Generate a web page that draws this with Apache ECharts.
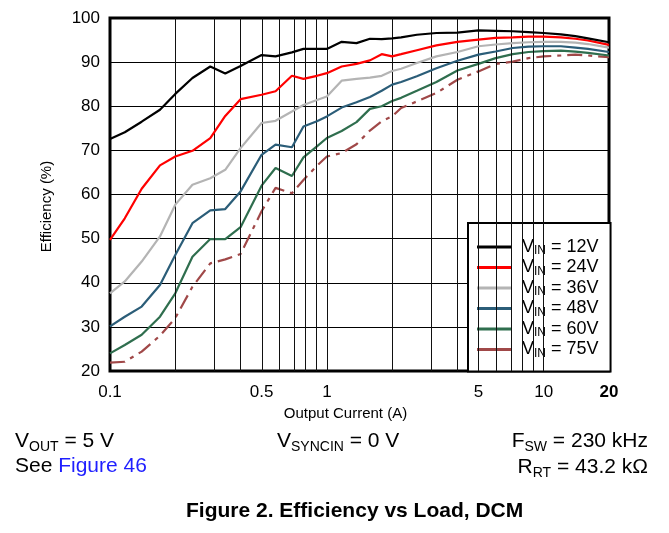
<!DOCTYPE html>
<html>
<head>
<meta charset="utf-8">
<script src="https://cdn.jsdelivr.net/npm/echarts@6/dist/echarts.min.js"></script>
<style>
html,body{margin:0;padding:0;background:#fff;}
#chart{width:669px;height:533px;}
</style>
</head>
<body>
<div id="chart"></div>
<script>
// Output current (A), shared by all series
const currents = [0.1, 0.117, 0.14, 0.17, 0.2, 0.24, 0.29, 0.34, 0.4, 0.5, 0.58, 0.69, 0.78, 0.9, 1.0, 1.17, 1.37, 1.58, 1.79, 2.0, 2.2, 2.6, 3.2, 4.0, 5.0, 6.0, 7.2, 8.5, 10, 12, 14, 16, 20];
// Efficiency (%) per input voltage
const eff12 = [72.6, 74.1, 76.5, 79.2, 82.8, 86.4, 89.0, 87.4, 89.1, 91.6, 91.3, 92.2, 93.0, 93.0, 93.0, 94.6, 94.3, 95.3, 95.2, 95.4, 95.6, 96.2, 96.6, 96.7, 97.2, 97.1, 97.0, 96.8, 96.6, 96.3, 95.9, 95.4, 94.5];
const eff24 = [49.7, 54.6, 61.3, 66.6, 68.6, 69.9, 72.8, 77.8, 81.6, 82.6, 83.4, 86.9, 86.2, 86.9, 87.5, 89.0, 89.6, 90.4, 91.8, 91.3, 91.8, 92.7, 93.8, 94.6, 95.1, 95.5, 95.6, 95.8, 95.8, 95.6, 95.3, 94.9, 93.9];
const eff36 = [37.6, 40.3, 44.8, 50.5, 57.7, 62.2, 63.7, 65.6, 70.5, 76.2, 76.7, 78.8, 80.3, 81.4, 82.2, 85.8, 86.2, 86.5, 86.9, 88.0, 88.5, 89.8, 91.3, 92.3, 93.6, 94.0, 94.3, 94.5, 94.6, 94.6, 94.4, 94.1, 93.3];
const eff48 = [30.1, 32.3, 34.6, 39.5, 46.3, 53.5, 56.4, 56.7, 60.7, 69.0, 71.3, 70.7, 75.4, 76.6, 77.7, 79.7, 80.9, 82.1, 83.5, 84.9, 85.5, 86.8, 88.6, 90.3, 91.7, 92.4, 93.2, 93.5, 93.6, 93.6, 93.3, 93.0, 92.3];
const eff60 = [24.0, 25.9, 28.2, 32.3, 37.6, 45.9, 49.9, 49.9, 52.6, 62.0, 66.0, 64.2, 68.4, 70.9, 72.8, 74.4, 76.4, 79.4, 80.0, 81.2, 81.9, 83.5, 85.5, 88.1, 89.6, 90.9, 91.8, 92.3, 92.5, 92.6, 92.4, 92.1, 91.5];
const eff75 = [21.9, 22.1, 24.4, 28.0, 32.0, 39.1, 44.4, 45.3, 46.5, 56.2, 61.5, 60.3, 63.3, 66.5, 68.6, 69.4, 71.4, 74.5, 76.6, 77.7, 79.6, 81.1, 83.0, 86.0, 87.9, 89.6, 90.1, 90.9, 91.3, 91.5, 91.7, 91.5, 91.1];
const seriesNames = ['12V', '24V', '36V', '48V', '60V', '75V'];
const seriesColors = ['#000000', '#ff0000', '#b4b4b4', '#2b5d78', '#2f6e4e', '#a04848'];
// Axis ticks
const xLabelValues = [0.1, 0.5, 1, 5, 10, 20];
const xGridValues = [0.2, 0.3, 0.4, 0.5, 0.6, 0.7, 0.8, 0.9, 1, 2, 3, 4, 5, 6, 7, 8, 9, 10];
const yMin = 20, yMax = 100, yStep = 10;

const FONT = '"Liberation Sans", Arial, Helvetica, sans-serif';
const effSets = [eff12, eff24, eff36, eff48, eff60, eff75];
const lg = v => Math.log10(v);

const chart = echarts.init(document.getElementById('chart'), null, {renderer: 'canvas'});

const series = [{
  type: 'line', name: '__grid', data: [], z: 1, silent: true,
  markLine: {
    silent: true, symbol: 'none', label: {show: false},
    lineStyle: {color: '#111', width: 1, type: 'solid'},
    emphasis: {disabled: true},
    data: xGridValues.map(v => ({xAxis: lg(v)}))
  }
}];
effSets.forEach((arr, k) => {
  series.push({
    type: 'line', name: seriesNames[k], z: 3 + (5 - k),
    data: currents.map((c, i) => [lg(c), arr[i]]),
    symbol: 'none', smooth: false,
    color: seriesColors[k],
    lineStyle: {color: seriesColors[k], width: 2.2, type: k === 5 ? [15, 6, 4, 6] : 'solid'},
    emphasis: {disabled: true}
  });
});

const textRich = {
  m: {fontSize: 21, lineHeight: 26, fontFamily: FONT},
  s: {fontSize: 14, lineHeight: 14, padding: [12, 0, 0, 0], fontFamily: FONT},
  b: {fontSize: 21, lineHeight: 26, fontFamily: FONT, fill: '#1f1fff'}
};

const option = {
  animation: false,
  backgroundColor: '#fff',
  grid: {left: 110, right: 60, top: 18, bottom: 162, show: true, borderColor: '#000', borderWidth: 3, backgroundColor: 'transparent'},
  xAxis: {
    type: 'value', min: lg(0.1), max: lg(20),
    axisLine: {show: false}, axisTick: {show: false}, splitLine: {show: false},
    axisLabel: {
      customValues: xLabelValues.map(lg),
      showMinLabel: true, showMaxLabel: true,
      color: '#000', fontSize: 17, fontFamily: FONT, margin: 13,
      formatter: function (value) {
        const v = +Math.pow(10, value).toPrecision(3);
        return v === 20 ? '{b|20}' : String(v);
      },
      rich: {b: {fontWeight: 'bold', fontSize: 17, fontFamily: FONT, color: '#000'}}
    },
    name: 'Output Current (A)', nameLocation: 'middle', nameGap: 34,
    nameTextStyle: {color: '#000', fontSize: 15, fontFamily: FONT, padding: [0, 28, 0, 0]}
  },
  yAxis: {
    type: 'value', min: yMin, max: yMax, interval: yStep,
    axisLine: {show: false}, axisTick: {show: false},
    splitLine: {show: true, lineStyle: {color: '#000', width: 1}},
    axisLabel: {color: '#000', fontSize: 17, fontFamily: FONT, margin: 10},
    name: 'Efficiency (%)', nameLocation: 'middle', nameGap: 56,
    nameTextStyle: {color: '#000', fontSize: 15, fontFamily: FONT, padding: [0, 24, 0, 0]}
  },
  legend: {
    orient: 'vertical', left: 468, top: 223,
    backgroundColor: '#fff', borderColor: '#000', borderWidth: 2,
    padding: [14, 12, 12, 9],
    itemWidth: 35, itemHeight: 3, itemGap: 0.5, icon: 'rect',
    itemStyle: {borderWidth: 0},
    lineStyle: {type: 'solid'},
    data: seriesNames,
    formatter: name => '{p|V}{s|IN}{v| = ' + name + '}',
    textStyle: {
      color: '#000', fontFamily: FONT, fontSize: 18,
      rich: {
        p: {fontSize: 18, lineHeight: 20, padding: [0, 0, 0, 5], fontFamily: FONT},
        v: {fontSize: 18, lineHeight: 20, fontFamily: FONT},
        s: {fontSize: 12, lineHeight: 12, padding: [8, 0, 0, 0], fontFamily: FONT}
      }
    }
  },
  graphic: [
    {type: 'text', left: 15, top: 428, style: {text: '{m|V}{s|OUT}{m| = 5 V}', fill: '#000', rich: textRich}},
    {type: 'text', left: 15, top: 456, style: {text: '{m|See }{b|Figure 46}', fill: '#000', rich: textRich}},
    {type: 'text', left: 277, top: 428, style: {text: '{m|V}{s|SYNCIN}{m| = 0 V}', fill: '#000', rich: textRich}},
    {type: 'text', right: 21, top: 428, style: {text: '{m|F}{s|SW}{m| = 230 kHz}', fill: '#000', rich: textRich}},
    {type: 'text', right: 21, top: 454, style: {text: '{m|R}{s|RT}{m| = 43.2 kΩ}', fill: '#000', rich: textRich}},
    {type: 'text', left: 186, top: 501, style: {
      text: 'Figure 2. Efficiency vs Load, DCM', fill: '#000',
      font: 'bold 21px ' + FONT
    }}
  ],
  series: series
};
chart.setOption(option);
</script>
</body>
</html>
